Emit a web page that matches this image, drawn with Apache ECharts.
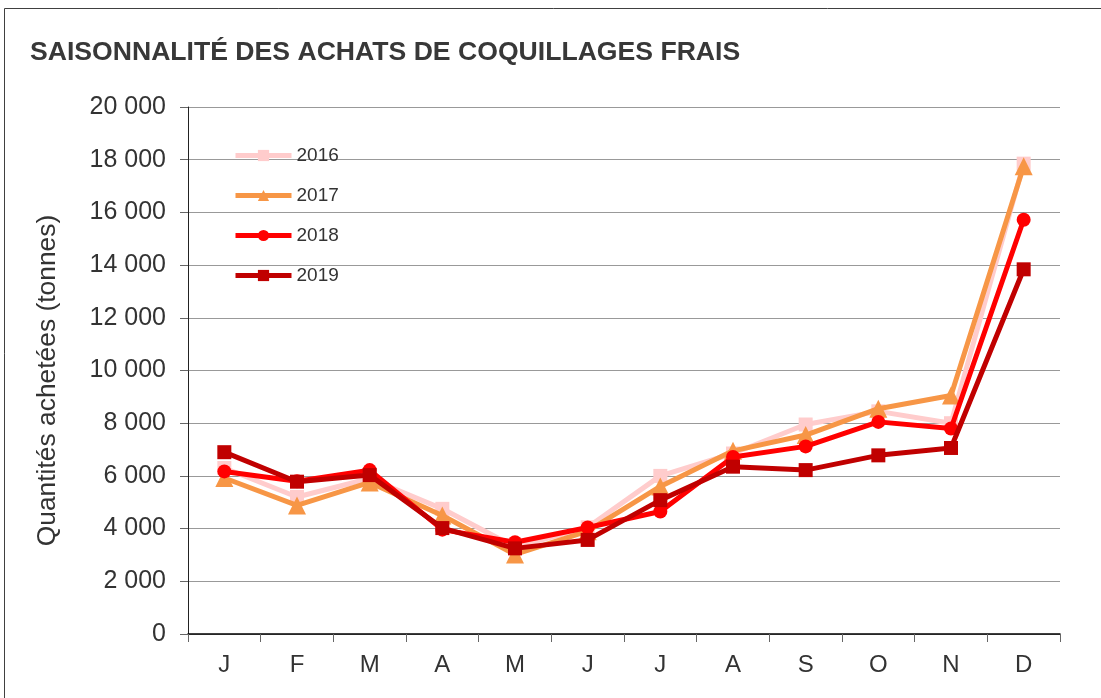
<!DOCTYPE html>
<html>
<head>
<meta charset="utf-8">
<script src="https://cdn.jsdelivr.net/npm/echarts@6/dist/echarts.min.js"></script>
<style>
  html, body { margin: 0; padding: 0; background: #fff; }
  #chart { width: 1101px; height: 698px; }
</style>
</head>
<body>
<div id="chart"></div>
<script>
// Monthly purchases of fresh shellfish, in tonnes
const months = ['J', 'F', 'M', 'A', 'M', 'J', 'J', 'A', 'S', 'O', 'N', 'D'];
const years = ['2016', '2017', '2018', '2019'];
const values2016 = [6300, 5200, 5900, 4750, 3300, 4050, 6000, 6850, 7950, 8450, 8000, 17850];
const values2017 = [5920, 4880, 5750, 4500, 3020, 3900, 5600, 6950, 7550, 8550, 9050, 17750];
const values2018 = [6170, 5800, 6220, 3960, 3480, 4040, 4650, 6720, 7120, 8050, 7800, 15720];
const values2019 = [6900, 5780, 6030, 4020, 3250, 3570, 5080, 6350, 6220, 6780, 7060, 13840];
const colors = ['#FFCCCC', '#F79646', '#FF0000', '#C00000'];
const symbols = ['rect', 'triangle', 'circle', 'rect'];
const seriesValues = [values2016, values2017, values2018, values2019];

// thousands separated by a space: 20000 -> "20 000"
const fmt = v => String(v).replace(/\B(?=(\d{3})+(?!\d))/g, ' ');
const FONT = 'Liberation Sans, Arial, sans-serif';

const chart = echarts.init(document.getElementById('chart'));
chart.setOption({
  animation: false,
  backgroundColor: '#fff',
  textStyle: { fontFamily: FONT },
  title: {
    text: 'SAISONNALITÉ DES ACHATS DE COQUILLAGES FRAIS',
    left: 25,
    top: 34,
    textStyle: { fontSize: 26.6, fontWeight: 'bold', color: '#383838', fontFamily: FONT }
  },
  graphic: [{
    type: 'rect',
    shape: { x: 4.5, y: 8.5, width: 1200, height: 800 },
    style: { fill: 'none', stroke: '#404040', lineWidth: 1 },
    silent: true
  }],
  legend: {
    orient: 'vertical',
    left: 228,
    top: 141,
    itemWidth: 56,
    itemHeight: 14,
    itemGap: 21,
    data: years,
    lineStyle: { width: 5 },
    textStyle: { fontSize: 19, color: '#333333' }
  },
  grid: { left: 188, right: 41, top: 107, bottom: 64 },
  xAxis: {
    type: 'category',
    data: months,
    boundaryGap: true,
    axisLine: { lineStyle: { color: '#000', width: 1.5 } },
    axisTick: { show: true, length: 8, lineStyle: { color: '#666' } },
    axisLabel: { fontSize: 24, color: '#333', margin: 19 }
  },
  yAxis: {
    type: 'value',
    min: 0,
    max: 20000,
    interval: 2000,
    name: 'Quantités achetées (tonnes)',
    nameLocation: 'middle',
    nameRotate: 90,
    nameGap: 127,
    nameTextStyle: { fontSize: 26.4, color: '#333', padding: [0, 20, 0, 0] },
    axisLine: { show: true, lineStyle: { color: '#222', width: 1 } },
    axisTick: { show: true, length: 8, lineStyle: { color: '#666' } },
    axisLabel: { fontSize: 25, color: '#333', margin: 22, formatter: fmt },
    splitLine: { lineStyle: { color: '#999', width: 1 } }
  },
  series: years.map((y, i) => ({
    name: y,
    type: 'line',
    data: seriesValues[i],
    symbol: symbols[i],
    symbolSize: i === 1 ? 18 : 14,
    showAllSymbol: true,
    lineStyle: { color: colors[i], width: 5 },
    itemStyle: { color: colors[i] },
    z: 2 + i
  }))
});
</script>
</body>
</html>
